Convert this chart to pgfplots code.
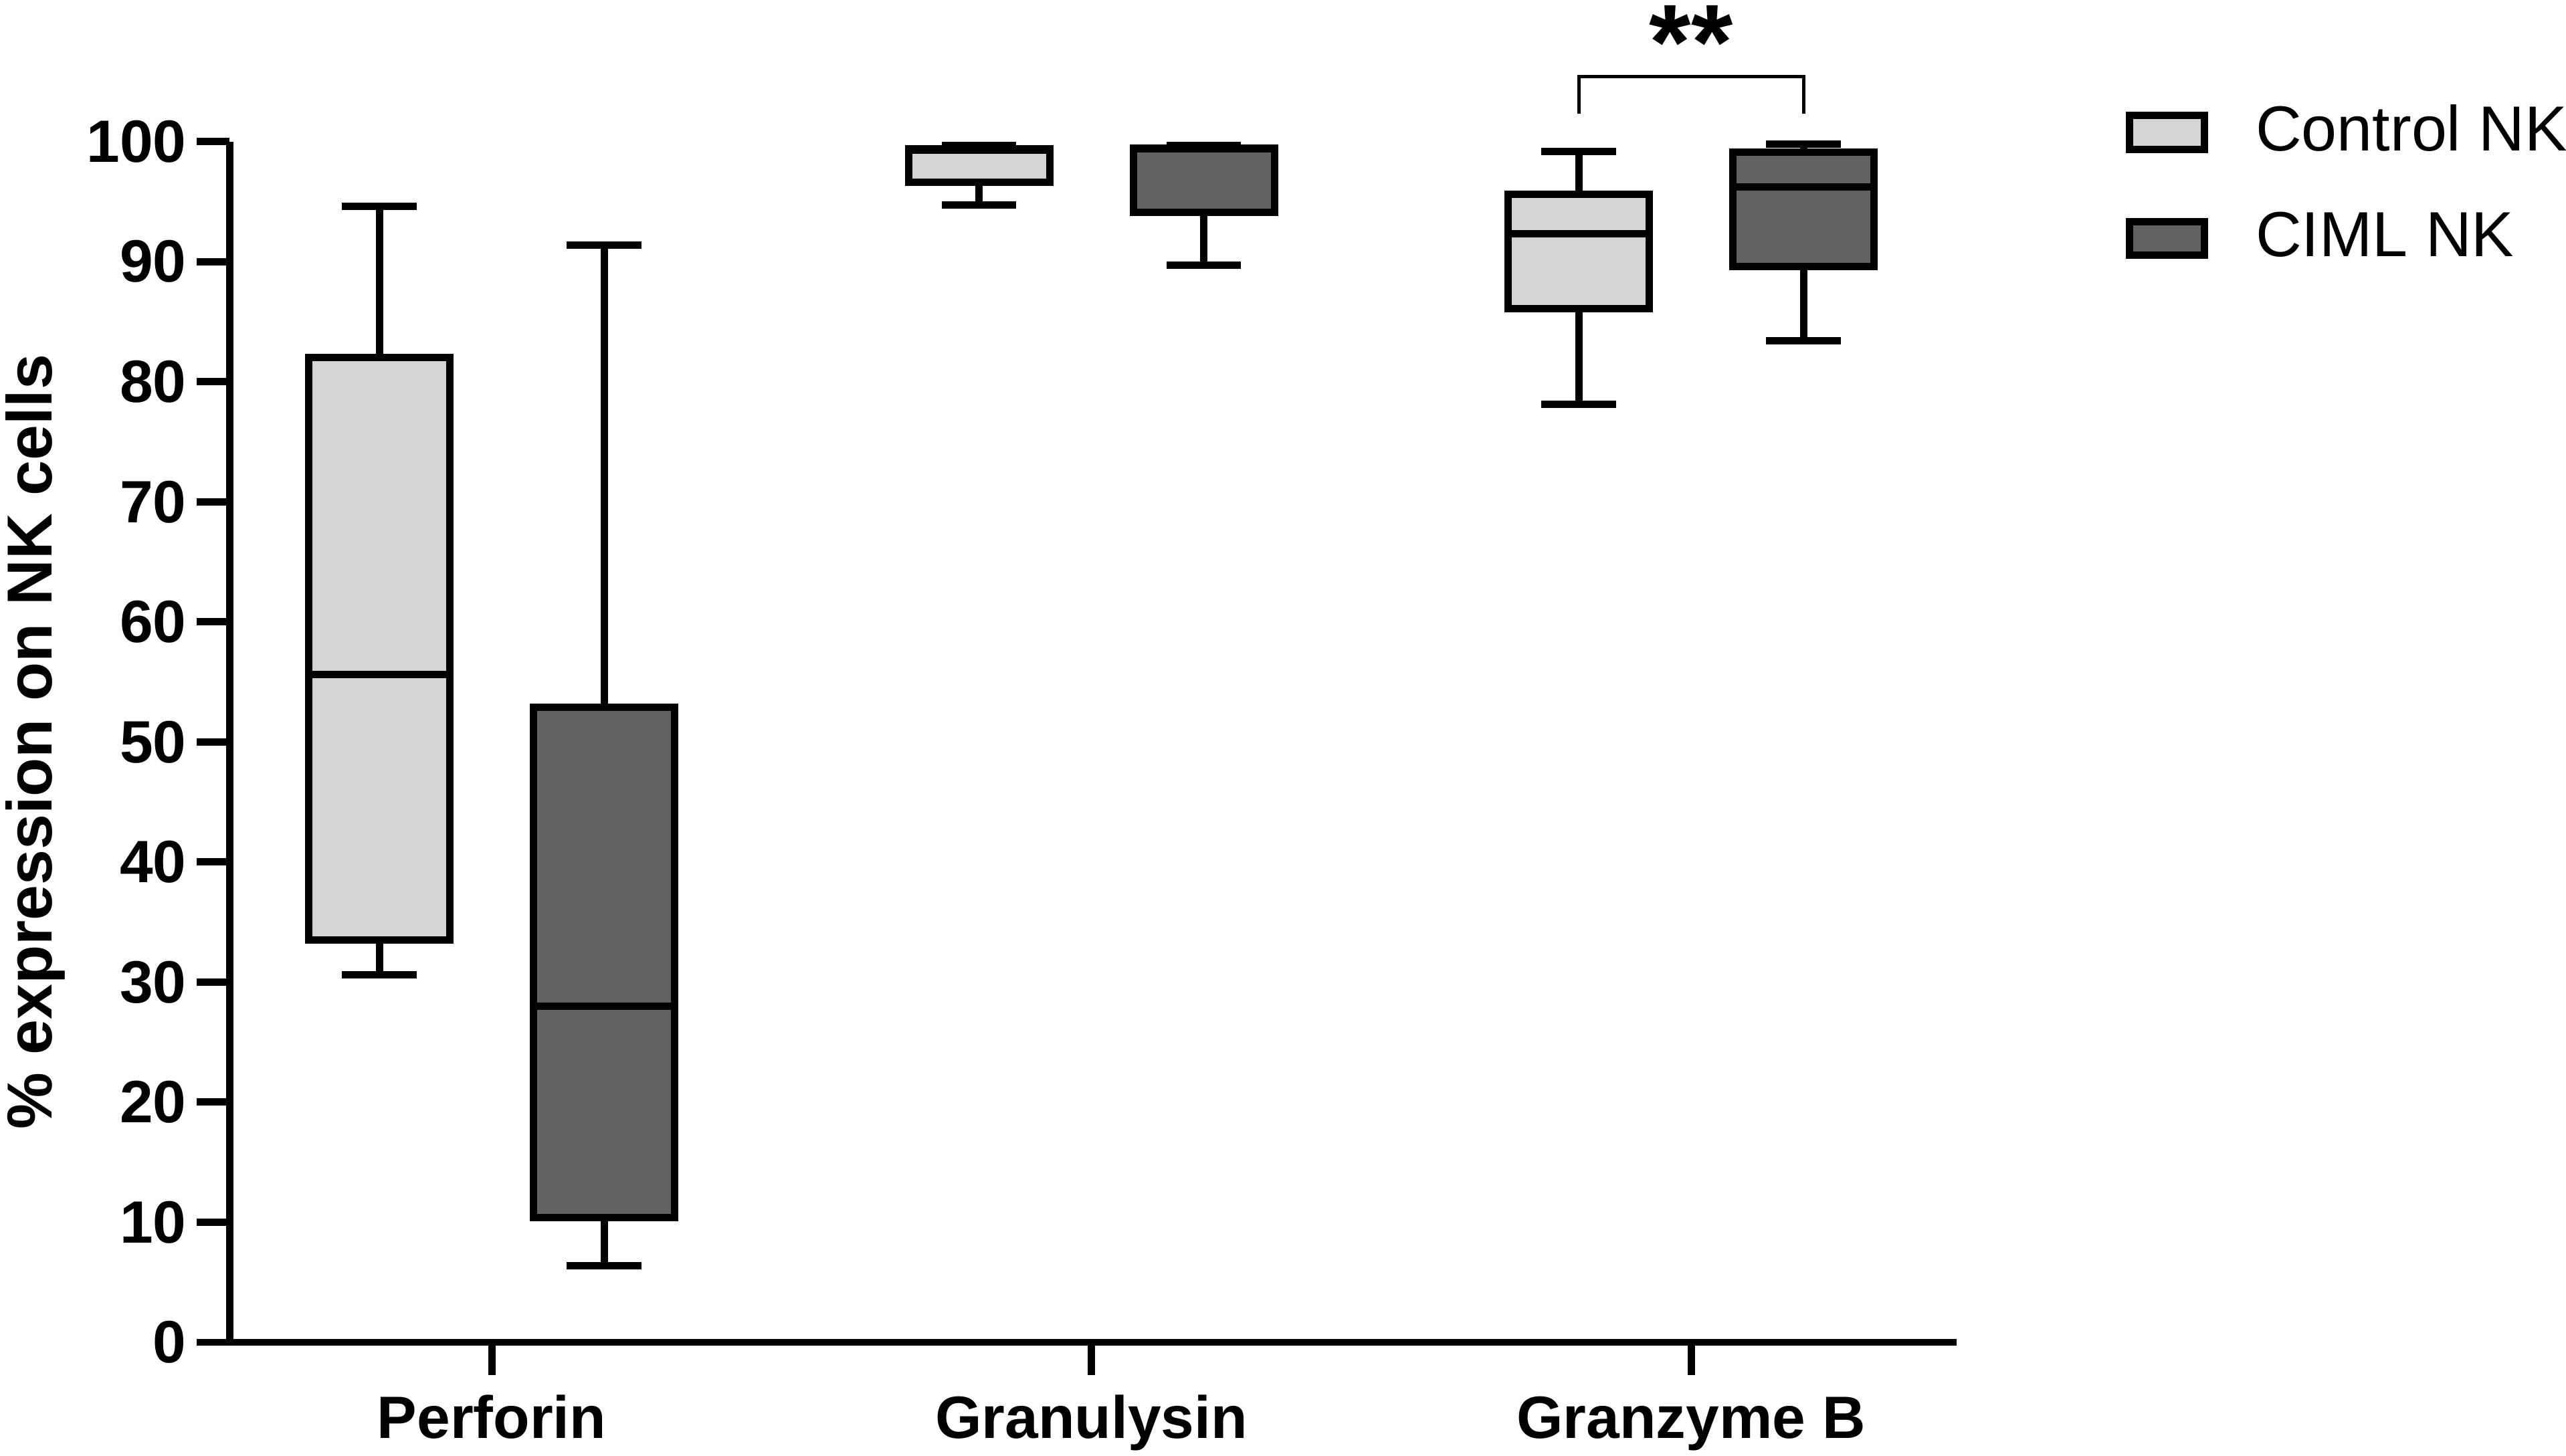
\documentclass[border=0pt]{standalone}
\usepackage{pgfplots}
\pgfplotsset{compat=1.18}
\usepackage{fontspec}
\setmainfont{Liberation Sans}
\definecolor{ctrl}{HTML}{D4D4D4}
\definecolor{ciml}{HTML}{626262}
\begin{document}
\begin{tikzpicture}
\begin{axis}[
  at={(0,0)}, anchor=south west,
  width=306.42pt, height=213.06pt, scale only axis,
  xmin=-0.4373, xmax=2.4428, ymin=0, ymax=100,
  axis x line*=bottom, axis y line*=left,
  axis line style={line width=1.3pt, black, -},
  xtick={0,1,2}, xticklabels={Perforin,Granulysin,Granzyme B},
  ytick={0,10,...,100},
  tick align=outside, major tick length=5.8pt,
  tick style={line width=1.3pt, black},
  /pgf/number format/assume math mode=true,
  yticklabel style={font=\fontsize{10.6}{12}\selectfont\bfseries, inner sep=0pt, xshift=-1.66pt},
  xticklabel style={font=\fontsize{10.6}{12}\selectfont\bfseries, inner sep=0pt, anchor=base, yshift=-11.17pt},
  ylabel={\% expression on NK cells},
  every axis y label/.style={at={(axis description cs:-0.1030,0.5)}, rotate=90, anchor=base, font=\fontsize{11.3}{13}\selectfont\bfseries},
  clip=false,
  legend cell align=left,
  legend style={at={(axis description cs:1.0978,1.0305)}, anchor=north west, draw=none, fill=none,
    inner sep=0pt, outer sep=0pt, row sep=9.3pt,
    font=\fontsize{11.3}{13}\selectfont,
    nodes={inner sep=0pt},
    /tikz/every odd column/.append style={column sep=8.5pt}},
  legend entries={Control NK, CIML NK},
  cycle list={{black, solid, mark=none, line width=1.3pt}},
  every axis plot/.append style={line width=1.3pt, black, mark=none, solid},
]
\addlegendimage{legend image code/.code={\draw[line width=1.3pt, fill=ctrl] (0pt,-3.02pt) rectangle (13.3pt,3.02pt);}}
\addlegendimage{legend image code/.code={\draw[line width=1.3pt, fill=ciml] (0pt,-3.02pt) rectangle (13.3pt,3.02pt);}}
% ---------- Perforin, Control NK (x=-0.1874): 30.6 / 33.5 / 55.6 / 82.0 / 94.6
\addplot coordinates {(-0.1874,82.0) (-0.1874,94.6)};
\addplot coordinates {(-0.2494,94.6) (-0.1254,94.6)};
\addplot coordinates {(-0.1874,33.5) (-0.1874,30.6)};
\addplot coordinates {(-0.2494,30.6) (-0.1254,30.6)};
\addplot[fill=ctrl] coordinates {(-0.3051,33.5) (-0.0697,33.5) (-0.0697,82.0) (-0.3051,82.0)} -- cycle;
\addplot coordinates {(-0.3051,55.6) (-0.0697,55.6)};
% ---------- Perforin, CIML NK (x=0.1874): 6.4 / 10.4 / 28.0 / 52.9 / 91.4
\addplot coordinates {(0.1874,52.9) (0.1874,91.4)};
\addplot coordinates {(0.1254,91.4) (0.2494,91.4)};
\addplot coordinates {(0.1874,10.4) (0.1874,6.4)};
\addplot coordinates {(0.1254,6.4) (0.2494,6.4)};
\addplot[fill=ciml] coordinates {(0.0697,10.4) (0.3051,10.4) (0.3051,52.9) (0.0697,52.9)} -- cycle;
\addplot coordinates {(0.0697,28.0) (0.3051,28.0)};
% ---------- Granulysin, Control NK (x=0.8126): 94.7 / 96.6 / 99.3 / 99.4 / 99.7
\addplot coordinates {(0.8126,99.4) (0.8126,99.7)};
\addplot coordinates {(0.7506,99.7) (0.8746,99.7)};
\addplot coordinates {(0.8126,96.6) (0.8126,94.7)};
\addplot coordinates {(0.7506,94.7) (0.8746,94.7)};
\addplot[fill=ctrl] coordinates {(0.6949,96.6) (0.9303,96.6) (0.9303,99.4) (0.6949,99.4)} -- cycle;
\addplot coordinates {(0.6949,99.3) (0.9303,99.3)};
% ---------- Granulysin, CIML NK (x=1.1874): 89.7 / 94.1 / 99.4 / 99.45 / 99.7
\addplot coordinates {(1.1874,99.45) (1.1874,99.7)};
\addplot coordinates {(1.1254,99.7) (1.2494,99.7)};
\addplot coordinates {(1.1874,94.1) (1.1874,89.7)};
\addplot coordinates {(1.1254,89.7) (1.2494,89.7)};
\addplot[fill=ciml] coordinates {(1.0697,94.1) (1.3051,94.1) (1.3051,99.45) (1.0697,99.45)} -- cycle;
\addplot coordinates {(1.0697,99.4) (1.3051,99.4)};
% ---------- Granzyme B, Control NK (x=1.8126): 78.1 / 86.1 / 92.3 / 95.6 / 99.2
\addplot coordinates {(1.8126,95.6) (1.8126,99.2)};
\addplot coordinates {(1.7506,99.2) (1.8746,99.2)};
\addplot coordinates {(1.8126,86.1) (1.8126,78.1)};
\addplot coordinates {(1.7506,78.1) (1.8746,78.1)};
\addplot[fill=ctrl] coordinates {(1.6949,86.1) (1.9303,86.1) (1.9303,95.6) (1.6949,95.6)} -- cycle;
\addplot coordinates {(1.6949,92.3) (1.9303,92.3)};
% ---------- Granzyme B, CIML NK (x=2.1874): 83.4 / 89.6 / 96.2 / 99.1 / 99.8
\addplot coordinates {(2.1874,99.1) (2.1874,99.8)};
\addplot coordinates {(2.1254,99.8) (2.2494,99.8)};
\addplot coordinates {(2.1874,89.6) (2.1874,83.4)};
\addplot coordinates {(2.1254,83.4) (2.2494,83.4)};
\addplot[fill=ciml] coordinates {(2.0697,89.6) (2.3051,89.6) (2.3051,99.1) (2.0697,99.1)} -- cycle;
\addplot coordinates {(2.0697,96.2) (2.3051,96.2)};
% significance bracket
\addplot[line width=0.6pt] coordinates {(1.8126,102.3) (1.8126,105.4) (2.1874,105.4) (2.1874,102.3)};
\node[anchor=base, inner sep=0pt, font=\fontsize{19}{23}\selectfont\bfseries] at (axis cs:2,105.2) {**};
\end{axis}
\pgfresetboundingbox
\path[use as bounding box] (-40.71pt,-20.06pt) rectangle (414.53pt,238.18pt);
\end{tikzpicture}
\end{document}
